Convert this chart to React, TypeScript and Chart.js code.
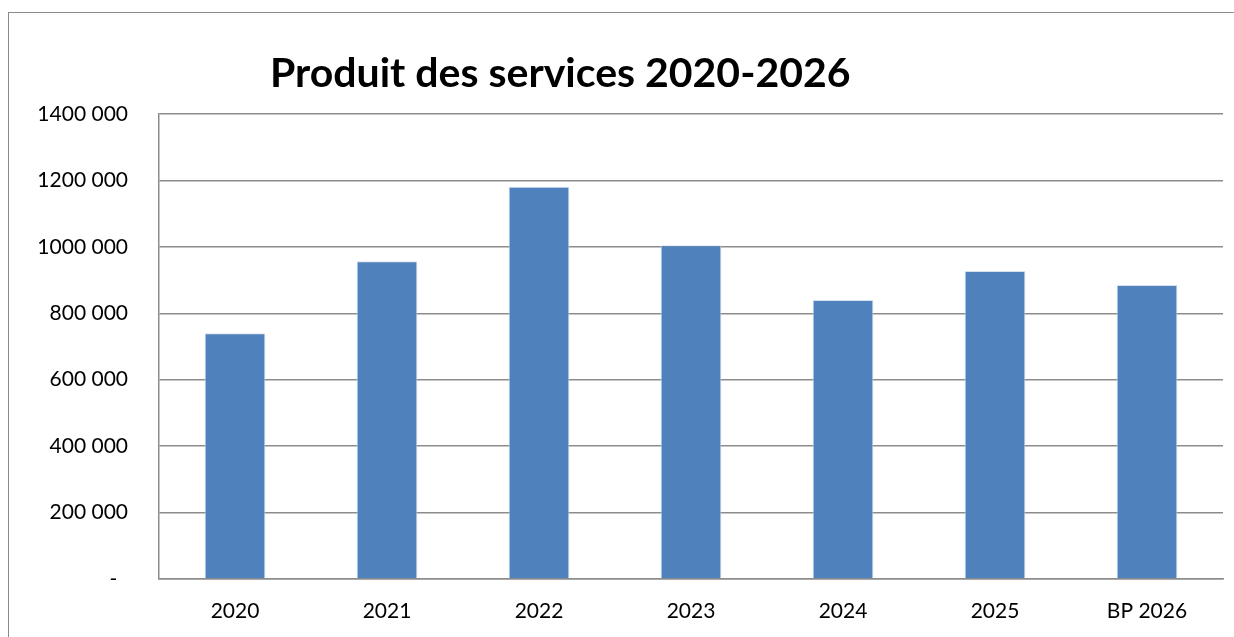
import React, { useEffect, useRef } from "react";
import { Chart, registerables } from "chart.js";

Chart.register(...registerables);

const TITLE = "Produit des services 2020-2026";
const categories = ["2020", "2021", "2022", "2023", "2024", "2025", "BP 2026"];
const values = [740000, 957000, 1181000, 1005000, 840000, 927000, 885000];
const yTicks = [0, 200000, 400000, 600000, 800000, 1000000, 1200000, 1400000];
const yTickLabels = ["-  ", "200 000", "400 000", "600 000", "800 000", "1000 000", "1200 000", "1400 000"];

const GRID = "#8c8c8c";

const titlePlugin = {
  id: "offsetTitle",
  afterDraw(chart: any) {
    const { ctx, chartArea } = chart;
    ctx.save();
    ctx.font = "bold 41px Lato";
    ctx.fillStyle = "#000";
    ctx.textAlign = "left";
    ctx.textBaseline = "alphabetic";
    ctx.fillText(TITLE, chartArea.left + 111, 74);
    ctx.restore();
  },
};

export default function App() {
  const ref = useRef<HTMLCanvasElement>(null);
  useEffect(() => {
    if (!ref.current) return;
    const chart = new Chart(ref.current, {
      type: "bar",
      data: {
        labels: categories,
        datasets: [
          {
            data: values,
            backgroundColor: "#4F81BD",
            borderColor: "#d5e1ef",
            borderWidth: 1,
            barPercentage: 0.4,
            categoryPercentage: 1,
          },
        ],
      },
      options: {
        responsive: false,
        animation: false,
        devicePixelRatio: 1,
        layout: { padding: { top: 101, right: 11, left: 0, bottom: 0 } },
        plugins: {
          legend: { display: false },
          title: { display: false },
          tooltip: { enabled: false },
        },
        scales: {
          x: {
            grid: { drawOnChartArea: false, drawTicks: false },
            border: { display: true, color: GRID, width: 1.5 },
            ticks: {
              color: "#000",
              padding: 20,
              font: { family: "Lato", size: 21 },
              maxRotation: 0,
            },
            afterFit: (s: any) => {
              s.height = 58;
            },
          },
          y: {
            min: 0,
            max: 1400000,
            afterBuildTicks: (s: any) => {
              s.ticks = yTicks.map((v) => ({ value: v }));
            },
            grid: { color: GRID, lineWidth: 1.5, drawTicks: false },
            border: { display: true, color: GRID, width: 1.5 },
            ticks: {
              color: "#000",
              padding: 31,
              font: { family: "Lato", size: 21 },
              callback: (v: any) => {
                const i = yTicks.indexOf(Number(v));
                return i >= 0 ? yTickLabels[i] : "";
              },
            },
            afterFit: (s: any) => {
              s.width = 150;
            },
          },
        },
      },
      plugins: [titlePlugin],
    });
    return () => chart.destroy();
  }, []);

  return (
    <div
      style={{
        position: "absolute",
        left: 8,
        top: 12,
        width: 1226,
        height: 625,
        boxSizing: "border-box",
        borderLeft: "1px solid #8a8a8a",
        borderTop: "1px solid #8a8a8a",
        background: "#fff",
      }}
    >
      <canvas
        ref={ref}
        width={1225}
        height={624}
        style={{ position: "absolute", left: 0, top: 0, width: 1225, height: 624 }}
      />
    </div>
  );
}
